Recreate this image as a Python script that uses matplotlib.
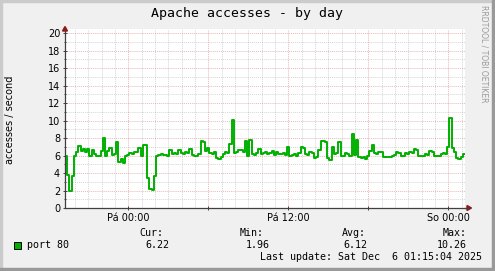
''' munin style apache accesses chart'''
import numpy as np
import pandas as pd
import matplotlib
matplotlib.use('Agg')
import matplotlib.pyplot as plt
import matplotlib.dates as mdates
from matplotlib.patches import Rectangle, Polygon
from matplotlib.lines import Line2D

# accesses / second, one value every 10 minutes from Thu 19:15
accesses = [
    5.9, 3.8, 2.0, 3.7, 5.9, 6.4, 7.1, 6.5, 6.8, 6.4,
    6.7, 6.0, 6.6, 6.2, 5.9, 6.0, 6.5, 8.0, 6.0, 6.5,
    6.9, 6.1, 6.2, 7.6, 5.3, 5.6, 5.2, 5.9, 6.1, 6.3,
    6.2, 6.4, 6.4, 6.9, 5.9, 7.2, 7.2, 3.4, 2.2, 2.1,
    3.7, 5.9, 6.1, 6.2, 6.1, 6.1, 6.0, 6.6, 6.2, 6.3,
    6.2, 6.6, 6.3, 6.2, 6.4, 6.3, 6.8, 6.1, 6.0, 5.9,
    6.2, 7.7, 7.6, 6.5, 6.9, 6.3, 6.2, 6.4, 5.7, 5.6,
    5.8, 6.2, 6.4, 6.3, 7.3, 10.1, 6.3, 6.4, 6.6, 6.6,
    6.4, 7.7, 5.9, 7.8, 6.2, 6.1, 6.3, 6.7, 6.2, 6.3,
    6.4, 6.2, 6.3, 6.5, 6.1, 6.4, 6.2, 6.2, 6.3, 6.1,
    7.0, 6.0, 6.1, 6.2, 6.0, 6.3, 7.0, 6.9, 6.2, 6.1,
    6.4, 6.3, 5.7, 5.8, 6.6, 7.7, 7.7, 7.5, 5.7, 5.5,
    7.0, 6.2, 6.3, 7.6, 6.0, 6.0, 6.3, 6.2, 6.0, 8.5,
    6.1, 7.8, 5.8, 5.7, 5.8, 5.6, 6.0, 6.5, 7.2, 6.3,
    6.2, 6.4, 6.4, 5.8, 5.8, 5.8, 5.8, 5.9, 6.1, 6.4,
    6.3, 6.0, 6.0, 6.3, 6.2, 6.4, 6.3, 6.7, 6.6, 6.0,
    5.9, 6.0, 6.2, 6.1, 6.5, 6.4, 6.0, 5.9, 6.0, 6.2,
    6.3, 6.2, 7.0, 10.26, 6.9, 6.4, 5.7, 5.6, 5.8, 6.2,
]
start_time = '2025-12-04 19:15'
step = '10min'

legend_heads = ['Cur:', 'Min:', 'Avg:', 'Max:']
legend_values = ['6.22', '1.96', '6.12', '10.26']
day_names = {0: 'Po', 1: 'Út', 2: 'St', 3: 'Čt', 4: 'Pá', 5: 'So', 6: 'Ne'}

W, H = 495, 271
MONO = 'DejaVu Sans Mono'


def fx(px):
    return px / W


def fy(py):
    return 1 - py / H


def main():
    ''' main function'''
    fig = plt.figure(figsize=(W / 100, H / 100), dpi=100)
    fig.patch.set_facecolor('#F0F0F0')

    # frame shading
    fig.patches.append(Rectangle((0, 0), fx(2), 1, transform=fig.transFigure,
                                 color='#CBCBCB', zorder=0))
    fig.patches.append(Rectangle((0, fy(2)), 1, fy(0) - fy(2),
                                 transform=fig.transFigure, color='#CBCBCB', zorder=0))
    fig.patches.append(Rectangle((fx(W - 3), 0), fx(3), 1, transform=fig.transFigure,
                                 color='#999999', zorder=0))
    fig.patches.append(Rectangle((0, 0), 1, 3 / H, transform=fig.transFigure,
                                 color='#999999', zorder=0))

    ax = fig.add_axes([fx(65), fy(208), fx(400), (208 - 29) / H])
    ax.set_facecolor('white')

    t0 = pd.Timestamp(start_time)
    times = pd.date_range(t0, periods=len(accesses) + 1, freq=step)
    vals = accesses + [accesses[-1]]
    ax.plot(times, vals, color='#00B000', lw=1.4, drawstyle='steps-post', zorder=3)

    ax.set_xlim(t0, t0 + pd.Timedelta(hours=30))
    ax.set_ylim(0, 20.46)

    ax.yaxis.set_major_locator(plt.MultipleLocator(2))
    ax.yaxis.set_minor_locator(plt.MultipleLocator(1))
    ax.xaxis.set_major_locator(mdates.HourLocator(byhour=[0, 6, 12, 18]))
    ax.xaxis.set_minor_locator(mdates.HourLocator())

    def fmt(x, pos):
        d = mdates.num2date(x)
        if d.hour in (0, 12):
            return '%s %02d:%02d' % (day_names[d.weekday()], d.hour, d.minute)
        return ''
    ax.xaxis.set_major_formatter(plt.FuncFormatter(fmt))

    ax.grid(which='minor', color='#8C8C8C', alpha=0.35, lw=0.7, ls=(0, (1, 1)))
    ax.grid(which='major', color='#C84646', alpha=0.38, lw=0.7, ls=(0, (1, 1)))
    ax.set_axisbelow(True)

    for s in ['top', 'right']:
        ax.spines[s].set_visible(False)
    for s in ['left', 'bottom']:
        ax.spines[s].set_color('#404040')
        ax.spines[s].set_linewidth(0.9)
        ax.spines[s].set_zorder(4)
    ax.tick_params(which='both', direction='inout', color='#404040', labelsize=7,
                   length=3, width=0.7)
    ax.tick_params(which='minor', length=2)
    ax.tick_params(axis='x', which='minor', length=0)
    ax.tick_params(axis='x', pad=2)
    ax.tick_params(axis='y', pad=2)

    # axis extension and arrows
    fig.lines.append(Line2D([fx(465), fx(468)], [fy(208), fy(208)],
                            transform=fig.transFigure, color='#404040', lw=0.9))
    fig.patches.append(Polygon([(fx(467), fy(205.5)), (fx(471.5), fy(208)),
                                (fx(467), fy(210.5))], transform=fig.transFigure,
                               color='#8B1A1A', closed=True))
    fig.patches.append(Polygon([(fx(62.5), fy(31)), (fx(65), fy(26.5)),
                                (fx(67.5), fy(31))], transform=fig.transFigure,
                               color='#8B1A1A', closed=True))

    fig.text(fx(247), fy(13), 'Apache accesses - by day', family=MONO,
             fontsize=9.5, ha='center', va='center')
    fig.text(fx(10), fy(120), 'accesses / second', fontsize=7, rotation=90,
             ha='center', va='center')
    fig.text(fx(484), fy(5), 'RRDTOOL / TOBI OETIKER', fontsize=5.5,
             color='#9A9A9A', rotation=270, ha='center', va='top')

    # legend
    fig.patches.append(Rectangle((fx(14), fy(248.5)), fx(6.5), 6.5 / H,
                                 transform=fig.transFigure, facecolor='#00B000',
                                 edgecolor='black', lw=0.7))
    fig.text(fx(27), fy(245), 'port 80', family=MONO, fontsize=7.2, va='center')
    head_x = [139, 240, 342, 443]
    val_x = [145, 246, 343, 437]
    for hx, vx, h, v in zip(head_x, val_x, legend_heads, legend_values):
        fig.text(fx(hx), fy(233.5), h, family=MONO, fontsize=7.2, va='center')
        fig.text(fx(vx), fy(245), v, family=MONO, fontsize=7.2, va='center')
    fig.text(fx(260), fy(257.5), 'Last update: Sat Dec  6 01:15:04 2025',
             family=MONO, fontsize=7.2, va='center')

    fig.savefig('out.png', dpi=100, facecolor=fig.get_facecolor())


if __name__ == '__main__':
    main()
